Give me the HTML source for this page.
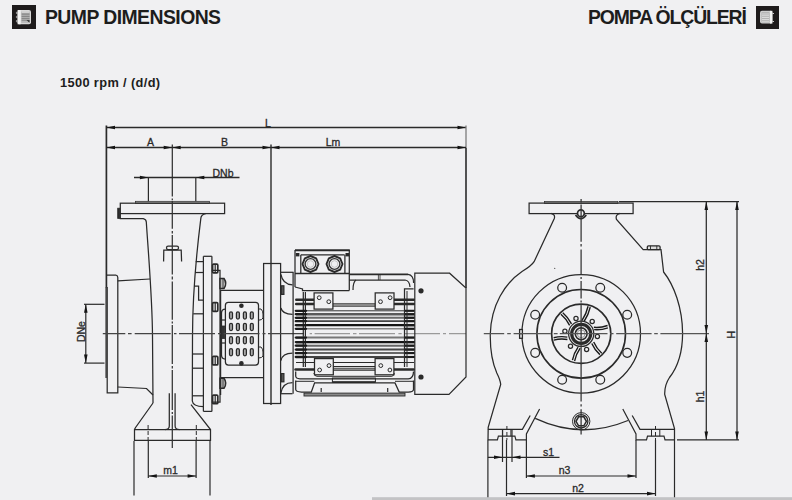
<!DOCTYPE html>
<html><head><meta charset="utf-8"><style>
html,body{margin:0;padding:0;background:#f0f0f2;}
body{width:792px;height:500px;overflow:hidden;position:relative;font-family:"Liberation Sans",sans-serif;}
.hd{position:absolute;top:6.0px;font-weight:bold;font-size:19.4px;color:#1d1d1d;white-space:nowrap;}
svg{position:absolute;left:0;top:0;}
svg text{font-family:"Liberation Sans",sans-serif;}
</style></head><body>
<svg style="left:12px;top:5px" width="24" height="24" viewBox="0 0 24 24"><rect width="24" height="24" fill="#1e1b1c"/><rect x="5.6" y="5" width="13.4" height="14.3" rx="2" fill="#d8d8d8"/><rect x="5.6" y="5" width="3" height="14.3" fill="#f4f4f4"/><path d="M5.6,7.2 h-1.2 v1.3 h1.2 M5.6,11.3 h-1.2 v1.4 h1.2 M5.6,15.5 h-1.2 v1.3 h1.2" stroke="#bbb" stroke-width="0.8" fill="none"/><rect x="9.2" y="6.4" width="8.7" height="11.5" fill="#b9b9b9"/><path d="M9.6,8 h8 M9.6,9.8 h8 M9.6,11.6 h8 M9.6,13.4 h8 M9.6,15.2 h8" stroke="#7a7a7a" stroke-width="0.9"/><path d="M9.6,7.2 h8" stroke="#eee" stroke-width="0.9"/><path d="M14.5,15.2 L17.5,15.2 L17.5,17.5 Z" fill="#222"/></svg>
<div class="hd" style="left:45px;letter-spacing:-0.56px">PUMP DIMENSIONS</div>
<div class="hd" style="left:588px;letter-spacing:-1.12px">POMPA ÖLÇÜLERİ</div>
<svg style="left:756px;top:6px" width="23" height="23" viewBox="0 0 23 23"><rect width="23" height="23" fill="#1e1b1c"/><rect x="4" y="4.8" width="12.4" height="12.8" rx="2" fill="#d0d0d0"/><rect x="14" y="4.8" width="2.4" height="12.8" fill="#f4f4f4"/><path d="M16.4,7.5 h1.6 M16.4,15.5 h1.6" stroke="#ccc" stroke-width="1" fill="none"/><rect x="5.6" y="6.3" width="7.8" height="10" fill="#aaa"/><path d="M6,8 h7 M6,9.8 h7 M6,11.6 h7 M6,13.4 h7 M6,15.2 h7" stroke="#e6e6e6" stroke-width="0.9"/></svg>
<div class="rpm" style="position:absolute;left:60px;top:74.5px;font-weight:bold;font-size:12.8px;letter-spacing:0.37px;color:#1d1d1d">1500 rpm / (d/d)</div>
<svg width="792" height="500" viewBox="0 0 792 500">
<line x1="106.4" y1="125.5" x2="106.4" y2="287.4" stroke="#2a2a2a" stroke-width="1.7" />
<line x1="106.1" y1="287" x2="106.1" y2="378" stroke="#2a2a2a" stroke-width="1.3" />
<line x1="106.5" y1="127.5" x2="466" y2="127.5" stroke="#2a2a2a" stroke-width="1.3" />
<path d="M106.50,127.50 L115.00,125.70 L115.00,129.30Z" fill="#151515"/>
<path d="M466.00,127.50 L457.50,129.30 L457.50,125.70Z" fill="#151515"/>
<line x1="466" y1="125.5" x2="466" y2="147.8" stroke="#777" stroke-width="1.25" />
<line x1="466" y1="147.8" x2="466" y2="288" stroke="#2a2a2a" stroke-width="1.6" />
<text x="268" y="126.5" font-size="10.5" text-anchor="middle" fill="#2a2a2a" stroke="#2a2a2a" stroke-width="0.3" >L</text>
<line x1="106.5" y1="147.5" x2="466" y2="147.5" stroke="#2a2a2a" stroke-width="1.3" />
<path d="M106.50,147.50 L115.00,145.70 L115.00,149.30Z" fill="#151515"/>
<path d="M172.20,147.50 L163.70,149.30 L163.70,145.70Z" fill="#151515"/>
<path d="M172.20,147.50 L180.70,145.70 L180.70,149.30Z" fill="#151515"/>
<path d="M271.00,147.50 L262.50,149.30 L262.50,145.70Z" fill="#151515"/>
<path d="M271.00,147.50 L279.50,145.70 L279.50,149.30Z" fill="#151515"/>
<path d="M466.00,147.50 L457.50,149.30 L457.50,145.70Z" fill="#151515"/>
<line x1="172.3" y1="144.5" x2="172.3" y2="196.4" stroke="#2a2a2a" stroke-width="1.2" />
<line x1="271" y1="144.5" x2="271" y2="405" stroke="#2a2a2a" stroke-width="1.4" />
<text x="150.5" y="145.5" font-size="10.5" text-anchor="middle" fill="#2a2a2a" stroke="#2a2a2a" stroke-width="0.3" >A</text>
<text x="224.5" y="145.5" font-size="10.5" text-anchor="middle" fill="#2a2a2a" stroke="#2a2a2a" stroke-width="0.3" >B</text>
<text x="333" y="145.5" font-size="10.5" text-anchor="middle" fill="#2a2a2a" stroke="#2a2a2a" stroke-width="0.3" >Lm</text>
<line x1="134" y1="177.5" x2="239.5" y2="177.5" stroke="#2a2a2a" stroke-width="1.3" />
<path d="M148.40,177.50 L139.90,179.30 L139.90,175.70Z" fill="#151515"/>
<path d="M195.80,177.50 L204.30,175.70 L204.30,179.30Z" fill="#151515"/>
<line x1="148.4" y1="178" x2="148.4" y2="201.5" stroke="#2a2a2a" stroke-width="1.2" />
<line x1="195.8" y1="178" x2="195.8" y2="201.5" stroke="#2a2a2a" stroke-width="1.2" />
<text x="223" y="176.5" font-size="10.5" text-anchor="middle" fill="#2a2a2a" stroke="#2a2a2a" stroke-width="0.3" >DNb</text>
<line x1="85.8" y1="304.3" x2="85.8" y2="363.1" stroke="#2a2a2a" stroke-width="1.2" />
<path d="M85.80,304.30 L87.60,312.80 L84.00,312.80Z" fill="#151515"/>
<path d="M85.80,363.10 L84.00,354.60 L87.60,354.60Z" fill="#151515"/>
<line x1="84" y1="304.3" x2="104.5" y2="304.3" stroke="#2a2a2a" stroke-width="1.2" />
<line x1="84" y1="363.1" x2="104.5" y2="363.1" stroke="#2a2a2a" stroke-width="1.2" />
<text x="0" y="0" font-size="10.5" text-anchor="middle" fill="#2a2a2a" stroke="#2a2a2a" stroke-width="0.3" transform="translate(84.5,331.6) rotate(-90)">DNe</text>
<line x1="148.3" y1="440" x2="148.3" y2="478" stroke="#2a2a2a" stroke-width="1.2" />
<line x1="196.1" y1="440" x2="196.1" y2="478" stroke="#2a2a2a" stroke-width="1.2" />
<line x1="148.3" y1="476" x2="196.1" y2="476" stroke="#2a2a2a" stroke-width="1.2" />
<path d="M148.30,476.00 L156.80,474.20 L156.80,477.80Z" fill="#151515"/>
<path d="M196.10,476.00 L187.60,477.80 L187.60,474.20Z" fill="#151515"/>
<text x="170.5" y="474" font-size="10.5" text-anchor="middle" fill="#2a2a2a" stroke="#2a2a2a" stroke-width="0.3" >m1</text>
<line x1="134" y1="441" x2="134" y2="495.5" stroke="#2a2a2a" stroke-width="1.2" />
<line x1="210" y1="441" x2="210" y2="495.5" stroke="#2a2a2a" stroke-width="1.2" />
<rect x="135.5" y="201.3" width="74" height="2.0" rx="0" stroke="#2a2a2a" stroke-width="0.7" fill="#a8a8a8" />
<rect x="120.3" y="203.2" width="104.3" height="10.4" rx="0" stroke="#2a2a2a" stroke-width="1.25" fill="none" />
<rect x="117.7" y="208.2" width="2.2" height="10.2" rx="0" stroke="#2a2a2a" stroke-width="0.8" fill="#2a2a2a" />
<path d="M120.3,213.6 L120.3,218.6 L143.3,218.6 Q146.3,219.5 146.3,222 C149,262 152.3,300 152.5,336 L153,403" stroke="#2a2a2a" stroke-width="1.25" fill="none" />
<path d="M205.7,213.6 Q201,214.5 200.8,218.6 C197.5,245 192.6,290 192.5,336 L192.3,401 Q193,406.6 203.4,406.6" stroke="#2a2a2a" stroke-width="1.25" fill="none" />
<path d="M163.6,261.5 L163.8,250 L181.2,250 L181.6,261.5" stroke="#2a2a2a" stroke-width="1.25" fill="none" />
<rect x="166.5" y="246.2" width="12" height="3.5" rx="1.6" stroke="#2a2a2a" stroke-width="1.25" fill="none" />
<path d="M106.4,275 L115.8,275 Q117.8,275.5 117.8,277.5 L117.8,392.8 L107.2,392.8 L107.2,287" stroke="#2a2a2a" stroke-width="1.25" fill="none" />
<line x1="117.8" y1="280.8" x2="150" y2="279" stroke="#2a2a2a" stroke-width="1.25" />
<path d="M117.8,387 L146.5,388.5 L153,395" stroke="#2a2a2a" stroke-width="1.25" fill="none" />
<path d="M153,403 L135.4,427.7 L134.5,429.5 L134.5,440.3 L210.5,440.3 L210.5,429.5 L191,404.7" stroke="#2a2a2a" stroke-width="1.25" fill="none" />
<line x1="134.5" y1="429.5" x2="210.5" y2="429.5" stroke="#2a2a2a" stroke-width="1.25" />
<path d="M169.3,393.3 L169.3,426 Q169.3,429.5 165,429.5" stroke="#2a2a2a" stroke-width="1.25" fill="none" />
<path d="M175.1,393.3 L175.1,426 Q175.1,429.5 179.5,429.5" stroke="#2a2a2a" stroke-width="1.25" fill="none" />
<line x1="148.1" y1="425" x2="148.1" y2="441" stroke="#2a2a2a" stroke-width="1" stroke-dasharray="4,2"/>
<line x1="196.3" y1="425" x2="196.3" y2="441" stroke="#2a2a2a" stroke-width="1" stroke-dasharray="4,2"/>
<path d="M172.3,198.5V200.3 M172.3,201V228.7 M172.3,231V233.5 M172.3,235V274.5 M172.3,276.5V279.5 M172.3,281.5V319.7 M172.3,321.5V323.5 M172.3,325V364 M172.3,366V368.5 M172.3,370V410 M172.3,412V414 M172.3,415.5V448" stroke="#333" stroke-width="1.25" fill="none"/>
<line x1="203.4" y1="256.3" x2="203.4" y2="411.4" stroke="#2a2a2a" stroke-width="1.25" />
<line x1="211.9" y1="256.3" x2="211.9" y2="411.4" stroke="#2a2a2a" stroke-width="1.25" />
<line x1="203.4" y1="256.3" x2="211.9" y2="256.3" stroke="#2a2a2a" stroke-width="1.25" />
<line x1="203.4" y1="411.4" x2="211.9" y2="411.4" stroke="#2a2a2a" stroke-width="1.25" />
<line x1="195.72" y1="261.6" x2="203.4" y2="261.6" stroke="#2a2a2a" stroke-width="1.25" />
<line x1="195.06" y1="272.5" x2="203.4" y2="272.5" stroke="#2a2a2a" stroke-width="1.25" />
<line x1="193.22" y1="313.8" x2="203.4" y2="313.8" stroke="#2a2a2a" stroke-width="1.25" />
<line x1="192.44" y1="354" x2="203.4" y2="354" stroke="#2a2a2a" stroke-width="1.25" />
<line x1="192.4" y1="368.2" x2="203.4" y2="368.2" stroke="#2a2a2a" stroke-width="1.25" />
<line x1="192.32" y1="395.8" x2="203.4" y2="395.8" stroke="#2a2a2a" stroke-width="1.25" />
<path d="M194.23,286.2 L198.6,286.2 L198.6,300.2 L203.4,300.2" stroke="#2a2a2a" stroke-width="1.25" fill="none" />
<path d="M211.9,270.4 L220,270.4 L220,402 L211.9,402" stroke="#2a2a2a" stroke-width="1.25" fill="none" />
<rect x="212.6" y="264.2" width="5.2" height="8.6" rx="1" stroke="#2a2a2a" stroke-width="1.7" fill="none" />
<line x1="215.2" y1="264.2" x2="215.2" y2="272.8" stroke="#2a2a2a" stroke-width="1.2" />
<rect x="212.6" y="302.7" width="5.2" height="8.6" rx="1" stroke="#2a2a2a" stroke-width="1.7" fill="none" />
<line x1="215.2" y1="302.7" x2="215.2" y2="311.3" stroke="#2a2a2a" stroke-width="1.2" />
<rect x="212.6" y="356.3" width="5.2" height="8.6" rx="1" stroke="#2a2a2a" stroke-width="1.7" fill="none" />
<line x1="215.2" y1="356.3" x2="215.2" y2="364.90000000000003" stroke="#2a2a2a" stroke-width="1.2" />
<rect x="212.6" y="395.09999999999997" width="5.2" height="8.6" rx="1" stroke="#2a2a2a" stroke-width="1.7" fill="none" />
<line x1="215.2" y1="395.09999999999997" x2="215.2" y2="403.7" stroke="#2a2a2a" stroke-width="1.2" />
<path d="M220,278.5 L224,278.5 Q227.5,283.5 224,288.5 L220,288.5Z" stroke="#2a2a2a" stroke-width="1.5" fill="#bbb" />
<line x1="223" y1="278.5" x2="223" y2="288.5" stroke="#2a2a2a" stroke-width="0.8" />
<path d="M220,378.2 L224,378.2 Q227.5,383.2 224,388.2 L220,388.2Z" stroke="#2a2a2a" stroke-width="1.5" fill="#bbb" />
<line x1="223" y1="378.2" x2="223" y2="388.2" stroke="#2a2a2a" stroke-width="0.8" />
<line x1="220" y1="290.4" x2="263.8" y2="290.4" stroke="#2a2a2a" stroke-width="1.25" />
<line x1="220" y1="377.5" x2="263.8" y2="377.5" stroke="#2a2a2a" stroke-width="1.25" />
<line x1="220.6" y1="290.4" x2="220.6" y2="395" stroke="#2a2a2a" stroke-width="1.25" />
<rect x="225.4" y="302.3" width="33.1" height="62.7" rx="3" stroke="#2a2a2a" stroke-width="1.25" fill="none" />
<rect x="229.5" y="311.79999999999995" width="3.0" height="7.2" rx="1.5" stroke="#2a2a2a" stroke-width="1.25" fill="#aaa" />
<rect x="229.5" y="323.29999999999995" width="3.0" height="7.2" rx="1.5" stroke="#2a2a2a" stroke-width="1.25" fill="#aaa" />
<rect x="229.5" y="336.59999999999997" width="3.0" height="7.2" rx="1.5" stroke="#2a2a2a" stroke-width="1.25" fill="#aaa" />
<rect x="229.5" y="348.59999999999997" width="3.0" height="7.2" rx="1.5" stroke="#2a2a2a" stroke-width="1.25" fill="#aaa" />
<rect x="236.4" y="311.79999999999995" width="3.0" height="7.2" rx="1.5" stroke="#2a2a2a" stroke-width="1.25" fill="#aaa" />
<rect x="236.4" y="323.29999999999995" width="3.0" height="7.2" rx="1.5" stroke="#2a2a2a" stroke-width="1.25" fill="#aaa" />
<rect x="236.4" y="336.59999999999997" width="3.0" height="7.2" rx="1.5" stroke="#2a2a2a" stroke-width="1.25" fill="#aaa" />
<rect x="236.4" y="348.59999999999997" width="3.0" height="7.2" rx="1.5" stroke="#2a2a2a" stroke-width="1.25" fill="#aaa" />
<rect x="243.4" y="311.79999999999995" width="3.0" height="7.2" rx="1.5" stroke="#2a2a2a" stroke-width="1.25" fill="#aaa" />
<rect x="243.4" y="323.29999999999995" width="3.0" height="7.2" rx="1.5" stroke="#2a2a2a" stroke-width="1.25" fill="#aaa" />
<rect x="243.4" y="336.59999999999997" width="3.0" height="7.2" rx="1.5" stroke="#2a2a2a" stroke-width="1.25" fill="#aaa" />
<rect x="243.4" y="348.59999999999997" width="3.0" height="7.2" rx="1.5" stroke="#2a2a2a" stroke-width="1.25" fill="#aaa" />
<rect x="250.3" y="311.79999999999995" width="3.0" height="7.2" rx="1.5" stroke="#2a2a2a" stroke-width="1.25" fill="#aaa" />
<rect x="250.3" y="323.29999999999995" width="3.0" height="7.2" rx="1.5" stroke="#2a2a2a" stroke-width="1.25" fill="#aaa" />
<rect x="250.3" y="336.59999999999997" width="3.0" height="7.2" rx="1.5" stroke="#2a2a2a" stroke-width="1.25" fill="#aaa" />
<rect x="250.3" y="348.59999999999997" width="3.0" height="7.2" rx="1.5" stroke="#2a2a2a" stroke-width="1.25" fill="#aaa" />
<circle cx="241.40" cy="305.80" r="2.3" stroke="#2a2a2a" stroke-width="0" fill="#2a2a2a" />
<circle cx="241.40" cy="363.40" r="2.3" stroke="#2a2a2a" stroke-width="0" fill="#2a2a2a" />
<path d="M258.5,309 L261,309 Q263,311 263,314 L263,318 Q262,320.2 258.5,320.2" stroke="#2a2a2a" stroke-width="1" fill="none" />
<path d="M258.5,347 L261,347 Q263,349 263,352 L263,356 Q262,358 258.5,358" stroke="#2a2a2a" stroke-width="1" fill="none" />
<path d="M225.4,309 Q221.5,309 221.5,313 L221.5,355 Q221.5,359 225.4,359" stroke="#2a2a2a" stroke-width="1.25" fill="none" />
<rect x="221.2" y="326" width="3.6" height="12.5" rx="0" stroke="#2a2a2a" stroke-width="0.8" fill="#333" />
<line x1="221.5" y1="343" x2="225.4" y2="343" stroke="#2a2a2a" stroke-width="1.2" />
<line x1="221.5" y1="320" x2="225.4" y2="320" stroke="#2a2a2a" stroke-width="1.2" />
<rect x="263.6" y="263.5" width="17" height="140" rx="0" stroke="#2a2a2a" stroke-width="1.25" fill="none" />
<path d="M102.8,333.6H125.3 M128,333.6H131.6 M134.7,333.6H170.7 M174,333.6H176.5 M179,333.6H215 M218,333.6H221 M223.5,333.6H259.5 M262.5,333.6H265.5 M268,333.6H304" stroke="#444" stroke-width="1.2" fill="none"/>
<path d="M309.7,333.6H312 M314.6,333.6H350 M353,333.6H356.5 M359,333.6H395 M398.4,333.6H401.7 M404.5,333.6H440 M443,333.6H446 M449,333.6H466" stroke="#9a9a9a" stroke-width="1.2" fill="none"/>
<line x1="295" y1="250.2" x2="349.8" y2="250.2" stroke="#2a2a2a" stroke-width="2.0" />
<line x1="295" y1="250" x2="295" y2="287" stroke="#2a2a2a" stroke-width="1.25" />
<line x1="349.3" y1="250" x2="349.3" y2="290.5" stroke="#2a2a2a" stroke-width="1.25" />
<line x1="301" y1="254.8" x2="344.5" y2="254.8" stroke="#2a2a2a" stroke-width="1.25" />
<line x1="300.8" y1="254.8" x2="300.8" y2="273.5" stroke="#2a2a2a" stroke-width="1.25" />
<line x1="344.9" y1="254.8" x2="344.9" y2="273.5" stroke="#2a2a2a" stroke-width="1.25" />
<rect x="295.8" y="253" width="3.6" height="3.4" rx="0" stroke="#2a2a2a" stroke-width="0" fill="#2a2a2a" />
<rect x="345.5" y="253" width="3.6" height="3.4" rx="0" stroke="#2a2a2a" stroke-width="0" fill="#2a2a2a" />
<polygon points="318.50,264.00 316.16,269.66 310.50,272.00 304.84,269.66 302.50,264.00 304.84,258.34 310.50,256.00 316.16,258.34" stroke="#2a2a2a" stroke-width="1.9" fill="none" stroke-linejoin="round"/>
<circle cx="310.50" cy="264.00" r="5.4" stroke="#333" stroke-width="1.4" fill="none" />
<circle cx="310.50" cy="264.00" r="3.3" stroke="#bbb" stroke-width="0.8" fill="none" />
<polygon points="342.50,264.00 340.16,269.66 334.50,272.00 328.84,269.66 326.50,264.00 328.84,258.34 334.50,256.00 340.16,258.34" stroke="#2a2a2a" stroke-width="1.9" fill="none" stroke-linejoin="round"/>
<circle cx="334.50" cy="264.00" r="5.4" stroke="#333" stroke-width="1.4" fill="none" />
<circle cx="334.50" cy="264.00" r="3.3" stroke="#bbb" stroke-width="0.8" fill="none" />
<line x1="295" y1="273.5" x2="349.3" y2="273.5" stroke="#2a2a2a" stroke-width="1.4" />
<path d="M295,287 L302.5,289 L302.5,290.5 L349.3,290.5" stroke="#2a2a2a" stroke-width="1.25" fill="none" />
<line x1="349.7" y1="274.4" x2="408" y2="274.4" stroke="#2a2a2a" stroke-width="1.8" />
<path d="M408,274.4 Q413.6,275 413.6,283" stroke="#2a2a2a" stroke-width="1.2" fill="none" />
<path d="M349,280 L405,280 Q409.5,280.5 410,287" stroke="#2a2a2a" stroke-width="1.25" fill="none" />
<path d="M356,280 Q353,282 353,290" stroke="#2a2a2a" stroke-width="1.25" fill="none" />
<line x1="378.4" y1="274.4" x2="378.4" y2="280" stroke="#2a2a2a" stroke-width="0.8" />
<line x1="380" y1="274.4" x2="380" y2="280" stroke="#2a2a2a" stroke-width="0.8" />
<line x1="280.2" y1="272.3" x2="293.5" y2="272.3" stroke="#2a2a2a" stroke-width="1.25" />
<path d="M280.9,274.4 C282,281 286,284.5 292.5,284.9" stroke="#2a2a2a" stroke-width="1.25" fill="none" />
<path d="M280.9,308 C282,312.5 286,314.3 292.5,314.3" stroke="#2a2a2a" stroke-width="1.25" fill="none" />
<path d="M280.9,360.7 C282,355 286,353.2 292.5,353.2" stroke="#2a2a2a" stroke-width="1.25" fill="none" />
<path d="M280.9,393 C282,386 286,382.5 292.5,382.5" stroke="#2a2a2a" stroke-width="1.25" fill="none" />
<line x1="280.9" y1="393.7" x2="292.5" y2="393.7" stroke="#2a2a2a" stroke-width="1.25" />
<rect x="281.3" y="285.8" width="2.6" height="8.6" rx="0" stroke="#2a2a2a" stroke-width="1.2" fill="#555" />
<rect x="281.3" y="373.6" width="2.6" height="8.2" rx="0" stroke="#2a2a2a" stroke-width="1.2" fill="#555" />
<line x1="293.1" y1="272.3" x2="293.1" y2="393.7" stroke="#2a2a2a" stroke-width="1.25" />
<line x1="303.3" y1="292" x2="303.3" y2="367" stroke="#2a2a2a" stroke-width="1.25" />
<line x1="305.4" y1="292" x2="305.4" y2="367" stroke="#2a2a2a" stroke-width="1.25" />
<line x1="296.2" y1="299.8" x2="314.1" y2="299.8" stroke="#2a2a2a" stroke-width="2.4" stroke-linecap="round"/>
<line x1="394.4" y1="299.8" x2="413.8" y2="299.8" stroke="#2a2a2a" stroke-width="2.4" stroke-linecap="round"/>
<line x1="296.2" y1="304" x2="314.1" y2="304" stroke="#2a2a2a" stroke-width="2.6" stroke-linecap="round"/>
<line x1="394.4" y1="304" x2="413.8" y2="304" stroke="#2a2a2a" stroke-width="2.6" stroke-linecap="round"/>
<rect x="332.9" y="303.4" width="42.3" height="3" rx="0" stroke="#555" stroke-width="0.8" fill="#8a8a8a" />
<line x1="296" y1="310.8" x2="414.8" y2="310.8" stroke="#333" stroke-width="1.0" />
<line x1="295.8" y1="310.8" x2="306" y2="310.8" stroke="#1a1a1a" stroke-width="2.3" stroke-linecap="round"/>
<line x1="404" y1="310.8" x2="414.3" y2="310.8" stroke="#1a1a1a" stroke-width="2.1" />
<line x1="296" y1="314.2" x2="414.8" y2="314.2" stroke="#5a5a5a" stroke-width="2.4" />
<line x1="295.8" y1="314.2" x2="306" y2="314.2" stroke="#1a1a1a" stroke-width="2.3" stroke-linecap="round"/>
<line x1="404" y1="314.2" x2="414.3" y2="314.2" stroke="#1a1a1a" stroke-width="2.1" />
<line x1="296" y1="317.8" x2="414.8" y2="317.8" stroke="#6a6a6a" stroke-width="2.0" />
<line x1="295.8" y1="317.8" x2="306" y2="317.8" stroke="#1a1a1a" stroke-width="2.3" stroke-linecap="round"/>
<line x1="404" y1="317.8" x2="414.3" y2="317.8" stroke="#1a1a1a" stroke-width="2.1" />
<line x1="296" y1="321.2" x2="414.8" y2="321.2" stroke="#444" stroke-width="1.8" />
<line x1="295.8" y1="321.2" x2="306" y2="321.2" stroke="#1a1a1a" stroke-width="2.3" stroke-linecap="round"/>
<line x1="404" y1="321.2" x2="414.3" y2="321.2" stroke="#1a1a1a" stroke-width="2.1" />
<line x1="296" y1="325.2" x2="414.8" y2="325.2" stroke="#151515" stroke-width="2.2" />
<line x1="295.8" y1="325.2" x2="306" y2="325.2" stroke="#1a1a1a" stroke-width="2.3" stroke-linecap="round"/>
<line x1="404" y1="325.2" x2="414.3" y2="325.2" stroke="#1a1a1a" stroke-width="2.1" />
<line x1="296" y1="328.8" x2="414.8" y2="328.8" stroke="#888" stroke-width="1.5" />
<line x1="295.8" y1="328.8" x2="306" y2="328.8" stroke="#1a1a1a" stroke-width="2.3" stroke-linecap="round"/>
<line x1="404" y1="328.8" x2="414.3" y2="328.8" stroke="#1a1a1a" stroke-width="2.1" />
<line x1="296" y1="337.6" x2="414.8" y2="337.6" stroke="#777" stroke-width="2.0" />
<line x1="295.8" y1="337.6" x2="306" y2="337.6" stroke="#1a1a1a" stroke-width="2.3" stroke-linecap="round"/>
<line x1="404" y1="337.6" x2="414.3" y2="337.6" stroke="#1a1a1a" stroke-width="2.1" />
<line x1="296" y1="342.1" x2="414.8" y2="342.1" stroke="#151515" stroke-width="2.2" />
<line x1="295.8" y1="342.1" x2="306" y2="342.1" stroke="#1a1a1a" stroke-width="2.3" stroke-linecap="round"/>
<line x1="404" y1="342.1" x2="414.3" y2="342.1" stroke="#1a1a1a" stroke-width="2.1" />
<line x1="296" y1="345.7" x2="414.8" y2="345.7" stroke="#666" stroke-width="2.0" />
<line x1="295.8" y1="345.7" x2="306" y2="345.7" stroke="#1a1a1a" stroke-width="2.3" stroke-linecap="round"/>
<line x1="404" y1="345.7" x2="414.3" y2="345.7" stroke="#1a1a1a" stroke-width="2.1" />
<line x1="296" y1="349.6" x2="414.8" y2="349.6" stroke="#444" stroke-width="2.0" />
<line x1="295.8" y1="349.6" x2="306" y2="349.6" stroke="#1a1a1a" stroke-width="2.3" stroke-linecap="round"/>
<line x1="404" y1="349.6" x2="414.3" y2="349.6" stroke="#1a1a1a" stroke-width="2.1" />
<line x1="296" y1="353.1" x2="414.8" y2="353.1" stroke="#666" stroke-width="2.0" />
<line x1="295.8" y1="353.1" x2="306" y2="353.1" stroke="#1a1a1a" stroke-width="2.3" stroke-linecap="round"/>
<line x1="404" y1="353.1" x2="414.3" y2="353.1" stroke="#1a1a1a" stroke-width="2.1" />
<line x1="296" y1="357.0" x2="414.8" y2="357.0" stroke="#444" stroke-width="2.0" />
<line x1="295.8" y1="357.0" x2="306" y2="357.0" stroke="#1a1a1a" stroke-width="2.3" stroke-linecap="round"/>
<line x1="404" y1="357.0" x2="414.3" y2="357.0" stroke="#1a1a1a" stroke-width="2.1" />
<line x1="296" y1="362.5" x2="414" y2="362.5" stroke="#2a2a2a" stroke-width="1.0" />
<line x1="332.9" y1="366.5" x2="375.2" y2="366.5" stroke="#2a2a2a" stroke-width="1.0" />
<rect x="333" y="368.1" width="42.4" height="2.5" rx="0" stroke="#2a2a2a" stroke-width="0.6" fill="#888" />
<line x1="295.5" y1="369.5" x2="314.1" y2="369.5" stroke="#2a2a2a" stroke-width="2.4" stroke-linecap="round"/>
<line x1="394.4" y1="369.5" x2="413.6" y2="369.5" stroke="#2a2a2a" stroke-width="2.4" stroke-linecap="round"/>
<rect x="314.1" y="292.9" width="18.8" height="16.2" rx="0" stroke="#2a2a2a" stroke-width="1.25" fill="#f0f0f2" />
<circle cx="319.20" cy="297.70" r="1.9" stroke="#2a2a2a" stroke-width="1" fill="none" />
<circle cx="328.80" cy="301.70" r="1.9" stroke="#2a2a2a" stroke-width="1" fill="none" />
<rect x="375.2" y="292.9" width="18.8" height="16.2" rx="0" stroke="#2a2a2a" stroke-width="1.25" fill="#f0f0f2" />
<circle cx="390.10" cy="297.70" r="1.9" stroke="#2a2a2a" stroke-width="1" fill="none" />
<circle cx="380.50" cy="301.70" r="1.9" stroke="#2a2a2a" stroke-width="1" fill="none" />
<rect x="314.5" y="358.6" width="18.8" height="16.2" rx="0" stroke="#2a2a2a" stroke-width="1.25" fill="#f0f0f2" />
<circle cx="329.00" cy="365.60" r="1.9" stroke="#2a2a2a" stroke-width="1" fill="none" />
<circle cx="319.60" cy="370.00" r="1.9" stroke="#2a2a2a" stroke-width="1" fill="none" />
<rect x="375.1" y="358.6" width="18.8" height="16.2" rx="0" stroke="#2a2a2a" stroke-width="1.25" fill="#f0f0f2" />
<circle cx="380.80" cy="365.60" r="1.9" stroke="#2a2a2a" stroke-width="1" fill="none" />
<circle cx="389.90" cy="370.00" r="1.9" stroke="#2a2a2a" stroke-width="1" fill="none" />
<rect x="304" y="393.1" width="101" height="2.9" rx="0" stroke="#2a2a2a" stroke-width="0.9" fill="#8a8a8a" />
<path d="M295.7,371.4 L295.7,376.3 Q296,378.8 299.9,378.8 L408.2,378.8 Q413.5,378.5 413.5,371.4" stroke="#2a2a2a" stroke-width="1.25" fill="none" />
<path d="M313.8,373 Q314.5,376.3 317,376.3 L391.8,376.3 Q394,376 394.3,373" stroke="#2a2a2a" stroke-width="1.0" fill="none" />
<rect x="332.4" y="378" width="43" height="4.1" rx="0" stroke="#2a2a2a" stroke-width="1.0" fill="none" />
<line x1="332.4" y1="382.1" x2="375.4" y2="382.1" stroke="#2a2a2a" stroke-width="1.6" />
<path d="M295.7,380.5 L295.7,389.5 Q296,392 301.5,392 L311.3,392 L314.6,382.9 L395,382.9 L399.2,392 L408.2,392 Q413.5,392 413.5,389.5 L413.5,380.5" stroke="#2a2a2a" stroke-width="1.25" fill="none" />
<line x1="295.7" y1="381.3" x2="314.3" y2="381.3" stroke="#2a2a2a" stroke-width="1.0" />
<line x1="395" y1="381.3" x2="413.5" y2="381.3" stroke="#2a2a2a" stroke-width="1.0" />
<line x1="321.2" y1="388" x2="321.2" y2="392" stroke="#2a2a2a" stroke-width="1.2" />
<line x1="387.7" y1="388" x2="387.7" y2="392" stroke="#2a2a2a" stroke-width="1.2" />
<line x1="404.5" y1="291" x2="404.5" y2="367" stroke="#2a2a2a" stroke-width="1.25" />
<line x1="407" y1="291" x2="407" y2="367" stroke="#2a2a2a" stroke-width="1.0" />
<path d="M404.5,291 L404.5,288.8 L413.6,288.8" stroke="#2a2a2a" stroke-width="1.25" fill="none" />
<path d="M414.8,273.2 L449.6,273.2 L466,288 L466,377 L449,394.4 L414.8,394.4 Z" stroke="#2a2a2a" stroke-width="1.2" fill="none" />
<circle cx="421.00" cy="290.80" r="2.6" stroke="#2a2a2a" stroke-width="0" fill="#2a2a2a" />
<circle cx="421.00" cy="377.00" r="2.6" stroke="#2a2a2a" stroke-width="0" fill="#2a2a2a" />
<rect x="544.6" y="201.4" width="73.3" height="2.0" rx="0" stroke="#2a2a2a" stroke-width="0.7" fill="#a8a8a8" />
<rect x="529.1" y="203.1" width="104" height="10.5" rx="0" stroke="#2a2a2a" stroke-width="1.25" fill="none" />
<line x1="619" y1="201.6" x2="739" y2="201.6" stroke="#2a2a2a" stroke-width="1.25" />
<circle cx="580.90" cy="213.20" r="3.4" stroke="#2a2a2a" stroke-width="1.7" fill="#f0f0f2" />
<path d="M575.5,215 Q580.9,222.5 586.3,215" stroke="#2a2a2a" stroke-width="1.6" fill="none" />
<path d="M551.1,213.3 Q555.5,214.5 554.3,218.5 L534.1,261.7 C532,265 528,268 522,271.5 C505,283 491,305 490.3,334 C490,350 492.5,363 496.8,373 Q500.3,380 500.7,384.4 L488.2,427.3 L488,440" stroke="#2a2a2a" stroke-width="1.25" fill="none" />
<path d="M620,213.3 Q615,214.5 616.5,219.5 L643.2,249.6 L661,249.6 L663.6,272 C674,285 682.5,308 682.6,333.5 C682.5,354 677,368 669.5,377.5 Q664.5,385 664.7,394.3 L674.5,428.5 L674.5,440" stroke="#2a2a2a" stroke-width="1.25" fill="none" />
<rect x="647.3" y="245.8" width="12.8" height="3.8" rx="1.2" stroke="#2a2a2a" stroke-width="1.3" fill="#ddd" />
<line x1="650.5" y1="245.8" x2="650.5" y2="249.6" stroke="#2a2a2a" stroke-width="0.9" />
<line x1="656.8" y1="245.8" x2="656.8" y2="249.6" stroke="#2a2a2a" stroke-width="0.9" />
<circle cx="554.70" cy="268.40" r="0.7" stroke="#2a2a2a" stroke-width="0" fill="#666" />
<path d="M622.8,409 L636,434 L636,439.8 L646.5,439.8 L647.5,436.2 L664,436.2 L665,439.8 L674.5,439.8" stroke="#2a2a2a" stroke-width="1.2" fill="none" />
<path d="M632.2,415.5 L640,429.3 L674.5,429.3" stroke="#2a2a2a" stroke-width="1.25" fill="none" />
<line x1="651.5" y1="429.3" x2="651.5" y2="436.2" stroke="#2a2a2a" stroke-width="1" />
<line x1="659.8" y1="429.3" x2="659.8" y2="436.2" stroke="#2a2a2a" stroke-width="1" />
<line x1="655.5" y1="426" x2="655.5" y2="440" stroke="#2a2a2a" stroke-width="1" stroke-dasharray="4,2"/>
<path d="M539.6000000000001,409 L526.4000000000001,434 L526.4000000000001,439.8 L515.9000000000001,439.8 L514.9000000000001,436.2 L498.4000000000001,436.2 L497.4000000000001,439.8 L487.9000000000001,439.8" stroke="#2a2a2a" stroke-width="1.2" fill="none" />
<path d="M530.2,415.5 L522.4000000000001,429.3 L487.9000000000001,429.3" stroke="#2a2a2a" stroke-width="1.25" fill="none" />
<line x1="510.9000000000001" y1="429.3" x2="510.9000000000001" y2="436.2" stroke="#2a2a2a" stroke-width="1" />
<line x1="502.60000000000014" y1="429.3" x2="502.60000000000014" y2="436.2" stroke="#2a2a2a" stroke-width="1" />
<line x1="506.9000000000001" y1="426" x2="506.9000000000001" y2="440" stroke="#2a2a2a" stroke-width="1" stroke-dasharray="4,2"/>
<path d="M535.2,418.4 Q581.2,440 628,420.5" stroke="#2a2a2a" stroke-width="1.25" fill="none" />
<circle cx="581.20" cy="421.30" r="8.7" stroke="#2a2a2a" stroke-width="1.0" fill="none" />
<circle cx="581.20" cy="421.30" r="6.7" stroke="#2a2a2a" stroke-width="1.3" fill="none" />
<polygon points="586.40,421.30 583.80,425.80 578.60,425.80 576.00,421.30 578.60,416.80 583.80,416.80" stroke="#2a2a2a" stroke-width="1.5" fill="none"/>
<circle cx="581.20" cy="333.80" r="59.3" stroke="#2a2a2a" stroke-width="1.25" fill="none" />
<circle cx="581.20" cy="333.80" r="44.3" stroke="#2a2a2a" stroke-width="1.6" fill="none" />
<circle cx="581.20" cy="333.80" r="29.6" stroke="#2a2a2a" stroke-width="1.7" fill="none" />
<circle cx="600.26" cy="287.79" r="4.4" stroke="#2a2a2a" stroke-width="1.25" fill="none" />
<circle cx="627.21" cy="314.74" r="4.4" stroke="#2a2a2a" stroke-width="1.25" fill="none" />
<circle cx="627.21" cy="352.86" r="4.4" stroke="#2a2a2a" stroke-width="1.25" fill="none" />
<circle cx="600.26" cy="379.81" r="4.4" stroke="#2a2a2a" stroke-width="1.25" fill="none" />
<circle cx="562.14" cy="379.81" r="4.4" stroke="#2a2a2a" stroke-width="1.25" fill="none" />
<circle cx="535.19" cy="352.86" r="4.4" stroke="#2a2a2a" stroke-width="1.25" fill="none" />
<circle cx="535.19" cy="314.74" r="4.4" stroke="#2a2a2a" stroke-width="1.25" fill="none" />
<circle cx="562.14" cy="287.79" r="4.4" stroke="#2a2a2a" stroke-width="1.25" fill="none" />
<rect x="519.6" y="329.5" width="2.8" height="8.8" rx="0" stroke="#2a2a2a" stroke-width="1.3" fill="#f0f0f2" />
<line x1="519.6" y1="333.7" x2="522.4" y2="333.7" stroke="#2a2a2a" stroke-width="1.2" />
<path d="M581.89,320.56 Q586.37,314.01 588.09,306.26" stroke="#1a1a1a" stroke-width="1.4" fill="none" />
<path d="M584.05,321.50 Q588.52,314.94 590.25,307.20" stroke="#1a1a1a" stroke-width="1.4" fill="none" />
<path d="M569.63,325.37 Q566.47,318.85 560.93,314.17" stroke="#1a1a1a" stroke-width="1.4" fill="none" />
<path d="M571.49,323.93 Q568.32,317.41 562.79,312.73" stroke="#1a1a1a" stroke-width="1.4" fill="none" />
<path d="M593.86,327.31 Q600.90,327.90 607.56,325.51" stroke="#1a1a1a" stroke-width="1.4" fill="none" />
<path d="M594.16,329.64 Q601.21,330.23 607.86,327.84" stroke="#1a1a1a" stroke-width="1.4" fill="none" />
<path d="M567.45,339.50 Q560.53,338.30 553.75,340.10" stroke="#1a1a1a" stroke-width="1.4" fill="none" />
<path d="M567.35,337.15 Q560.43,335.95 553.65,337.75" stroke="#1a1a1a" stroke-width="1.4" fill="none" />
<path d="M580.21,348.14 Q576.03,354.04 574.61,361.14" stroke="#1a1a1a" stroke-width="1.4" fill="none" />
<path d="M578.05,347.21 Q573.87,353.11 572.45,360.21" stroke="#1a1a1a" stroke-width="1.4" fill="none" />
<path d="M593.69,342.06 Q596.53,348.53 601.79,353.26" stroke="#1a1a1a" stroke-width="1.4" fill="none" />
<path d="M591.79,343.43 Q594.62,349.91 599.89,354.63" stroke="#1a1a1a" stroke-width="1.4" fill="none" />
<circle cx="576.00" cy="318.50" r="2.1" stroke="#2a2a2a" stroke-width="1.25" fill="#f0f0f2" />
<circle cx="592.20" cy="321.40" r="2.1" stroke="#2a2a2a" stroke-width="1.25" fill="#f0f0f2" />
<circle cx="564.90" cy="331.30" r="2.1" stroke="#2a2a2a" stroke-width="1.25" fill="#f0f0f2" />
<circle cx="597.40" cy="336.50" r="2.1" stroke="#2a2a2a" stroke-width="1.25" fill="#f0f0f2" />
<circle cx="570.50" cy="346.20" r="2.1" stroke="#2a2a2a" stroke-width="1.25" fill="#f0f0f2" />
<circle cx="586.60" cy="349.50" r="2.1" stroke="#2a2a2a" stroke-width="1.25" fill="#f0f0f2" />
<circle cx="581.20" cy="333.80" r="12.6" stroke="#2a2a2a" stroke-width="1.25" fill="#f0f0f2" />
<circle cx="581.20" cy="333.80" r="9.5" stroke="#2a2a2a" stroke-width="3.2" fill="none" />
<circle cx="581.20" cy="333.80" r="5.9" stroke="#2a2a2a" stroke-width="1.6" fill="none" />
<circle cx="581.20" cy="333.80" r="3.9" stroke="#888" stroke-width="0.8" fill="none" />
<path d="M483.8,333.7H504.2 M507.2,333.7H510.8 M513.6,333.7H550.8 M553.8,333.7H557.6 M559.8,333.7H607.5 M610,333.7H613.5 M616.2,333.7H651.6 M654.2,333.7H657.8 M660.4,333.7H709" stroke="#555" stroke-width="1.2" fill="none"/>
<path d="M581.1,199V202.5 M581.1,204.5V241.7 M581.1,244V246.5 M581.1,249.5V275 M581.1,277V279 M581.1,281V298.5 M581.1,300.5V302.5 M581.1,304.5V401.6 M581.1,404.2V406.4 M581.1,409.3V434.6" stroke="#333" stroke-width="1.25" fill="none"/>
<line x1="706.3" y1="201.6" x2="706.3" y2="440" stroke="#2a2a2a" stroke-width="1.25" />
<path d="M706.30,201.60 L708.10,210.10 L704.50,210.10Z" fill="#151515"/>
<path d="M706.30,333.60 L704.50,325.10 L708.10,325.10Z" fill="#151515"/>
<path d="M706.30,333.60 L708.10,342.10 L704.50,342.10Z" fill="#151515"/>
<path d="M706.30,440.00 L704.50,431.50 L708.10,431.50Z" fill="#151515"/>
<line x1="737" y1="201.6" x2="737" y2="440" stroke="#2a2a2a" stroke-width="1.25" />
<path d="M737.00,201.60 L738.80,210.10 L735.20,210.10Z" fill="#151515"/>
<path d="M737.00,440.00 L735.20,431.50 L738.80,431.50Z" fill="#151515"/>
<line x1="677" y1="439.8" x2="739" y2="439.8" stroke="#2a2a2a" stroke-width="1.2" />
<text x="0" y="0" font-size="10.5" text-anchor="middle" fill="#2a2a2a" stroke="#2a2a2a" stroke-width="0.3" transform="translate(704,265) rotate(-90)">h2</text>
<text x="0" y="0" font-size="10.5" text-anchor="middle" fill="#2a2a2a" stroke="#2a2a2a" stroke-width="0.3" transform="translate(704,396.5) rotate(-90)">h1</text>
<text x="0" y="0" font-size="10.5" text-anchor="middle" fill="#2a2a2a" stroke="#2a2a2a" stroke-width="0.3" transform="translate(735,334.8) rotate(-90)">H</text>
<line x1="487.9" y1="440" x2="487.9" y2="500" stroke="#2a2a2a" stroke-width="1.2" />
<line x1="502.5" y1="429.3" x2="502.5" y2="462" stroke="#2a2a2a" stroke-width="1.2" />
<line x1="512" y1="429.3" x2="512" y2="462" stroke="#2a2a2a" stroke-width="1.2" />
<line x1="526.4" y1="440" x2="526.4" y2="478" stroke="#2a2a2a" stroke-width="1.2" />
<line x1="506.5" y1="440" x2="506.5" y2="496" stroke="#2a2a2a" stroke-width="1.2" />
<line x1="636" y1="440" x2="636" y2="478" stroke="#2a2a2a" stroke-width="1.2" />
<line x1="655.5" y1="440" x2="655.5" y2="496" stroke="#2a2a2a" stroke-width="1.2" />
<line x1="674.5" y1="440" x2="674.5" y2="500" stroke="#2a2a2a" stroke-width="1.2" />
<line x1="487.9" y1="457.3" x2="559.5" y2="457.3" stroke="#2a2a2a" stroke-width="1.2" />
<path d="M502.50,457.30 L494.00,459.10 L494.00,455.50Z" fill="#151515"/>
<path d="M512.00,457.30 L520.50,455.50 L520.50,459.10Z" fill="#151515"/>
<text x="548.5" y="455.5" font-size="10.5" text-anchor="middle" fill="#2a2a2a" stroke="#2a2a2a" stroke-width="0.3" >s1</text>
<line x1="526.4" y1="476" x2="636" y2="476" stroke="#2a2a2a" stroke-width="1.2" />
<path d="M526.40,476.00 L534.90,474.20 L534.90,477.80Z" fill="#151515"/>
<path d="M636.00,476.00 L627.50,477.80 L627.50,474.20Z" fill="#151515"/>
<text x="564.5" y="473.8" font-size="10.5" text-anchor="middle" fill="#2a2a2a" stroke="#2a2a2a" stroke-width="0.3" >n3</text>
<line x1="506.5" y1="493.6" x2="655.5" y2="493.6" stroke="#2a2a2a" stroke-width="1.2" />
<path d="M506.50,493.60 L515.00,491.80 L515.00,495.40Z" fill="#151515"/>
<path d="M655.50,493.60 L647.00,495.40 L647.00,491.80Z" fill="#151515"/>
<text x="578" y="491.8" font-size="10.5" text-anchor="middle" fill="#2a2a2a" stroke="#2a2a2a" stroke-width="0.3" >n2</text>
<rect x="372" y="497.2" width="420" height="2.8" rx="0" stroke="#2a2a2a" stroke-width="0" fill="#c3c3c5" />
</svg>
</body></html>
